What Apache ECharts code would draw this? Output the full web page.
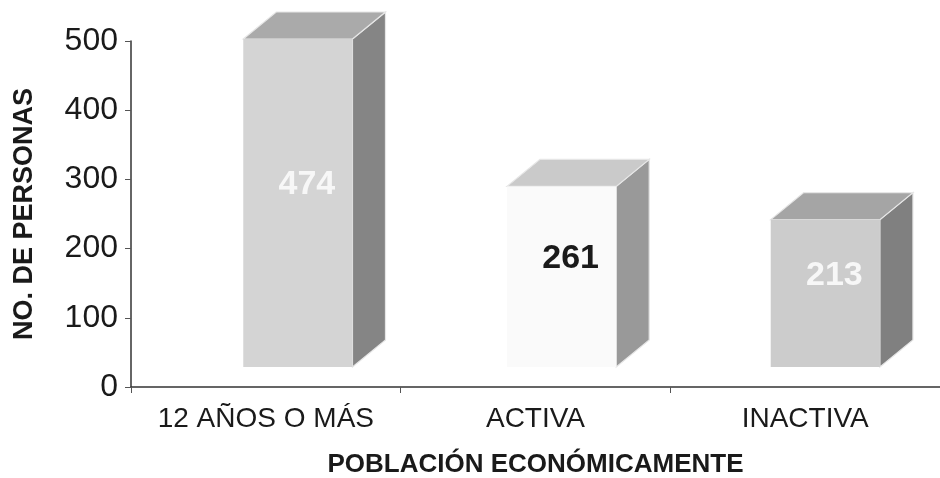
<!DOCTYPE html>
<html>
<head>
<meta charset="utf-8">
<script src="https://cdn.jsdelivr.net/npm/echarts@6/dist/echarts.min.js"></script>
<style>
html, body { margin: 0; padding: 0; background: #fff; }
#chart { width: 940px; height: 478px; }
</style>
</head>
<body>
<div id="chart"></div>
<script>
var categories = ['12 AÑOS O MÁS', 'ACTIVA', 'INACTIVA'];
var personas = [474, 261, 213];
var yTicks = [0, 100, 200, 300, 400, 500];

// colores de cada barra: frente, tapa, lado
var faceColors = [
	['#d4d4d4', '#aaaaaa', '#858585'],
	['#fafafa', '#cacaca', '#999999'],
	['#cccccc', '#a5a5a5', '#808080']
];
var labelColors = ['#f7f7f7', '#1a1a1a', '#f7f7f7'];

/**
 * barra en 3D (frente + tapa + lado)
 */
function render3dBar(params, api) {
	var idx = api.value(0);
	var val = api.value(1);
	var base = api.coord([idx, 0]);
	var top = api.coord([idx, val]);
	var band = api.size([1, 0])[0];
	var cs = params.coordSys;
	var lift = 20, dx = 33, dy = 27;
	var w = band * 0.405;
	var cx = cs.x + 35 + (base[0] - cs.x) * 0.978;
	var x0 = cx - w / 2, x1 = cx + w / 2;
	var yt = top[1] - lift, yb = base[1] - lift;
	var c = faceColors[idx];
	return {
		type: 'group',
		children: [
			{
				type: 'polygon',
				shape: { points: [[x1, yt], [x1 + dx, yt - dy], [x1 + dx, yb - dy], [x1, yb]] },
				style: { fill: c[2], stroke: '#e6e6e6', lineWidth: 1.2 }
			},
			{
				type: 'polygon',
				shape: { points: [[x0, yt], [x1, yt], [x1 + dx, yt - dy], [x0 + dx, yt - dy]] },
				style: { fill: c[1], stroke: '#e6e6e6', lineWidth: 1.2 }
			},
			{
				type: 'rect',
				shape: { x: x0, y: yt, width: w, height: yb - yt },
				style: { fill: c[0] }
			},
			{
				type: 'text',
				x: cx + 9,
				y: (yt + yb) / 2 - 18,
				style: {
					text: String(val),
					fill: labelColors[idx],
					font: 'bold 34px "Liberation Sans", Arial, sans-serif',
					align: 'center',
					verticalAlign: 'middle'
				}
			}
		]
	};
}

var myChart = echarts.init(document.getElementById('chart'));
var option = {
	animation: false,
	textStyle: { fontFamily: '"Liberation Sans", Arial, sans-serif' },
	grid: {
		left: 131,
		right: 0,
		top: 41,
		bottom: 91,
		containLabel: false,
		outerBoundsMode: 'none'
	},
	xAxis: {
		type: 'category',
		data: categories,
		name: 'POBLACIÓN ECONÓMICAMENTE',
		nameLocation: 'middle',
		nameGap: 65,
		nameTextStyle: { fontSize: 26, fontWeight: 'bold', color: '#1a1a1a' },
		axisLine: { lineStyle: { color: '#333', width: 1.5 } },
		axisTick: { show: true, interval: 0, length: 6, lineStyle: { color: '#555' } },
		axisLabel: { interval: 0, fontSize: 28, color: '#1a1a1a', margin: 18 },
		splitLine: { show: false }
	},
	yAxis: {
		type: 'value',
		min: yTicks[0],
		max: yTicks[yTicks.length - 1],
		interval: yTicks[1] - yTicks[0],
		name: 'NO. DE PERSONAS',
		nameLocation: 'middle',
		nameRotate: 90,
		nameGap: 93,
		nameTextStyle: { fontSize: 27, fontWeight: 'bold', color: '#1a1a1a' },
		axisLine: { show: true, lineStyle: { color: '#333', width: 1.5 } },
		axisTick: { show: true, length: 6, lineStyle: { color: '#555' } },
		axisLabel: { fontSize: 32, color: '#1a1a1a', margin: 13 },
		splitLine: { show: false }
	},
	series: [
		{
			type: 'custom',
			renderItem: render3dBar,
			encode: { x: 0, y: 1 },
			clip: false,
			data: personas.map(function (v, i) { return [i, v]; })
		}
	]
};
myChart.setOption(option);
</script>
</body>
</html>
